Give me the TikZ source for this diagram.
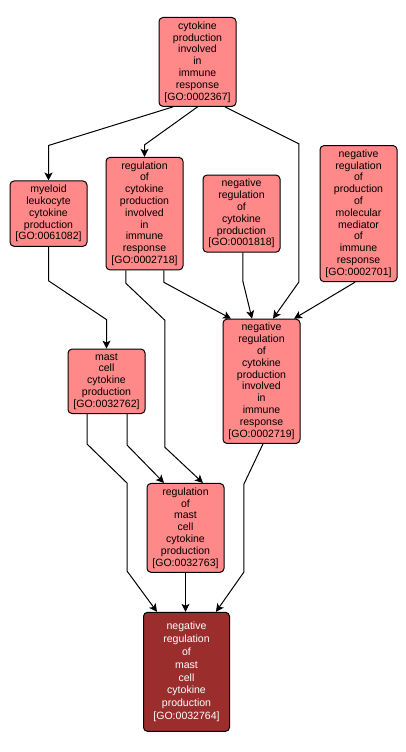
\documentclass[tikz,border=0pt]{standalone}
\usepackage{fontspec}
\setmainfont{Liberation Sans}
\usetikzlibrary{arrows.meta, positioning}
\definecolor{ink}{HTML}{000000}
\definecolor{termbg}{HTML}{FF8888}
\definecolor{hitbg}{HTML}{9B2D2D}
\tikzset{
  box/.style={
    draw=ink,
    rounded corners=3pt,
    line width=0.75pt,
    align=center,
    inner xsep=1pt,
    inner ysep=3.1pt,
    font=\fontsize{7.9}{8.85}\selectfont
  },
  term/.style={box, fill=termbg, minimum width=57.75pt},
  hit/.style={box, fill=hitbg, text=white, minimum width=64.5pt, inner ysep=7pt,
    font=\fontsize{7.9}{9.7}\selectfont},
  arrow/.style={-{Stealth[length=6pt, width=6pt, inset=1.5pt]}, line width=0.75pt, draw=ink}
}

\begin{document}
\begin{tikzpicture}[x=0.75pt, y=0.75pt]

\useasboundingbox[fill=white] (0,0) rectangle (406,-752);

\node[term, anchor=north] (top) at (197.5,-17) {
  cytokine\\ production\\ involved\\ in\\ immune\\ response\\ {[GO:0002367]}
};

\node[term, below=37.5pt of top, xshift=-39.75pt] (reg) {
  regulation\\ of\\ cytokine\\ production\\ involved\\ in\\ immune\\ response\\ {[GO:0002718]}
};

\node[term, right=14.25pt of reg] (negcyt) {
  negative\\ regulation\\ of\\ cytokine\\ production\\ {[GO:0001818]}
};

\node[term, right=29.25pt of negcyt] (negmed) {
  negative\\ regulation\\ of\\ production\\ of\\ molecular\\ mediator\\ of\\ immune\\ response\\ {[GO:0002701]}
};

\node[term, left=13.5pt of reg] (myeloid) {
  myeloid\\ leukocyte\\ cytokine\\ production\\ {[GO:0061082]}
};

\node[term, below=49.5pt of negcyt, xshift=15pt] (negimm) {
  negative\\ regulation\\ of\\ cytokine\\ production\\ involved\\ in\\ immune\\ response\\ {[GO:0002719]}
};

\node[term, left=57.75pt of negimm] (mast) {
  mast\\ cell\\ cytokine\\ production\\ {[GO:0032762]}
};

\node[term, below=29.25pt of negimm, xshift=-57pt] (regmast) {
  regulation\\ of\\ mast\\ cell\\ cytokine\\ production\\ {[GO:0032763]}
};

\node[hit, below=29.25pt of regmast, xshift=0.75pt] (negmast) {
  negative\\ regulation\\ of\\ mast\\ cell\\ cytokine\\ production\\ {[GO:0032764]}
};

\draw[arrow] ([xshift=-18.4pt]top.south) -- ([yshift=26.25pt]myeloid.north) -- (myeloid.north);
\draw[arrow] (top.south) -- ([yshift=9pt]reg.north) -- (reg.north);
\draw[arrow] ([xshift=20.6pt]top.south) -- ++(55.5pt,-27.75pt) -- ++(0,-103.5pt) -- ([xshift=8.6pt]negimm.north);
\draw[arrow] ([xshift=14.6pt]reg.south) -- ++(0,-9pt) -- ([xshift=-22.9pt]negimm.north);
\draw[arrow] ([xshift=1.1pt]negcyt.south) -- ++(0,-21.75pt) -- ([xshift=-7.1pt]negimm.north);
\draw[arrow] ([xshift=-2.6pt]negmed.south) -- ([xshift=24.4pt]negimm.north);
\draw[arrow] (myeloid.south) -- ++(0,-25.5pt) -- ([yshift=21.75pt]mast.north) -- (mast.north);
\draw[arrow] ([xshift=-13.9pt]reg.south) -- ++(0,-9.75pt) -- ++(29.25pt,-27.75pt) -- ++(0,-95.25pt) -- ([xshift=13.1pt]regmast.north);
\draw[arrow] ([xshift=15.4pt]mast.south) -- ++(0,-23.25pt) -- ([xshift=-16.1pt]regmast.north);
\draw[arrow] ([xshift=-14.6pt]mast.south) -- ++(0,-22.5pt) -- ++(30pt,-29.25pt) -- ++(0,-66pt) -- ([xshift=-22.1pt]negmast.north);
\draw[arrow] (regmast.south) -- (regmast.south |- negmast.north);
\draw[arrow] ([xshift=1.1pt]negimm.south) -- ++(-14.25pt,-30pt) -- ++(0,-66pt) -- ([xshift=22.1pt]negmast.north);

\end{tikzpicture}
\end{document}
